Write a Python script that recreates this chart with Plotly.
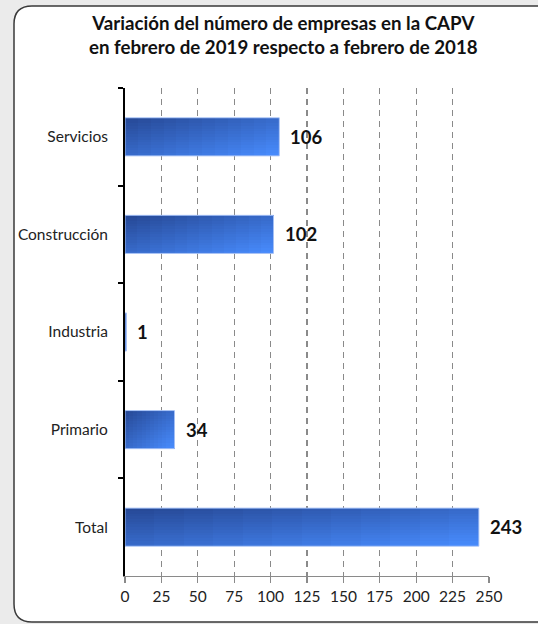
import plotly.graph_objects as go

categories = ["Servicios", "Construcción", "Industria", "Primario", "Total"]
values = [106, 102, 1, 34, 243]
x_ticks = [0, 25, 50, 75, 100, 125, 150, 175, 200, 225, 250]
title_lines = ["Variación del número de empresas en la CAPV",
               "en febrero de 2019 respecto a febrero de 2018"]

W, H = 538, 624
L, R, T, B = 125, 49, 88, 48
PW, PH = W - L - R, H - T - B

def px(x):
    return (x - L) / PW

def py(y):
    return (H - B - y) / PH

def lerp(c1, c2, t):
    return "#%02x%02x%02x" % tuple(round(a + (b - a) * t) for a, b in zip(c1, c2))

dark = (0x27, 0x4a, 0x98)
light = (0x47, 0x8a, 0xfb)

fig = go.Figure()
BW = 0.39
N, M = 14, 12
for i in range(N):
    for j in range(M):
        t = (i / (N - 1) + j / (M - 1)) / 2
        stretch = 1.02 if j < M - 1 else 1.0
        hstretch = 1.08 if i < N - 1 else 1.0
        fig.add_trace(go.Bar(
            y=categories,
            x=[v / M * stretch for v in values],
            base=[v * j / M for v in values],
            orientation="h",
            width=BW / N * hstretch,
            offset=-BW / 2 + i * BW / N,
            marker=dict(color=lerp(dark, light, t), line=dict(width=0)),
            hoverinfo="skip",
            showlegend=False,
        ))
# outline
fig.add_trace(go.Bar(
    y=categories, x=values, orientation="h", width=BW,
    marker=dict(color="rgba(0,0,0,0)", line=dict(width=1, color="#a3bff5")),
    hoverinfo="skip", showlegend=False,
))

annotations = []
for c, v in zip(categories, values):
    annotations.append(dict(
        x=v, y=c, xref="x", yref="y", text=str(v), showarrow=False,
        xanchor="left", yanchor="middle", xshift=9, yshift=0,
        font=dict(family="Lato", size=18.5, color="#111111", weight="bold"),
    ))
annotations.append(dict(
    x=px(283), y=py(35), xref="paper", yref="paper",
    text="<b>" + title_lines[0] + "</b><br><b>" + title_lines[1] + "</b>",
    showarrow=False, xanchor="center", yanchor="middle", align="center",
    font=dict(family="Lato", size=18.7, color="#111111"),
))

# rounded white box
x0, y0, x1, y1, r = 14, 6, 560, 622, 18
path = (f"M {px(x1)},{py(y0)} L {px(x0 + r)},{py(y0)} "
        f"Q {px(x0)},{py(y0)} {px(x0)},{py(y0 + r)} "
        f"L {px(x0)},{py(y1 - r)} Q {px(x0)},{py(y1)} {px(x0 + r)},{py(y1)} "
        f"L {px(x1)},{py(y1)} Z")
shapes = [dict(type="path", path=path, xref="paper", yref="paper",
               fillcolor="white", line=dict(color="#3a3a3a", width=1.5),
               layer="below")]

fig.update_layout(
    width=W, height=H,
    margin=dict(l=L, r=R, t=T, b=B, pad=0),
    paper_bgcolor="#ebebeb",
    plot_bgcolor="rgba(0,0,0,0)",
    barmode="overlay",
    bargap=0,
    annotations=annotations,
    shapes=shapes,
    font=dict(family="Lato", size=15, color="#222222"),
    xaxis=dict(
        range=[0, 250], tickvals=x_ticks, ticktext=[str(t) for t in x_ticks],
        showgrid=True, gridcolor="#8a8a8a", gridwidth=1.3, griddash="6px,5px",
        zeroline=False, showline=True, linecolor="#8a8a8a", linewidth=1.3,
        ticks="outside", ticklen=6, tickcolor="#8a8a8a", tickwidth=1.3,
        tickfont=dict(family="Lato", size=15.5, color="#222222"),
        fixedrange=True,
    ),
    yaxis=dict(
        categoryorder="array", categoryarray=categories, autorange="reversed",
        showgrid=False, zeroline=False, showline=True, linecolor="#000000",
        linewidth=2, ticks="outside", ticklen=5, tickcolor="#000000",
        tickwidth=2, tickson="boundaries", ticklabelstandoff=12,
        tickfont=dict(family="Lato", size=15.5, color="#222222"),
        fixedrange=True,
    ),
)

fig.write_html(
    "out.html",
    config={"displayModeBar": False, "staticPlot": True},
    post_script="document.body.style.margin='0';document.body.style.padding='0';",
)
